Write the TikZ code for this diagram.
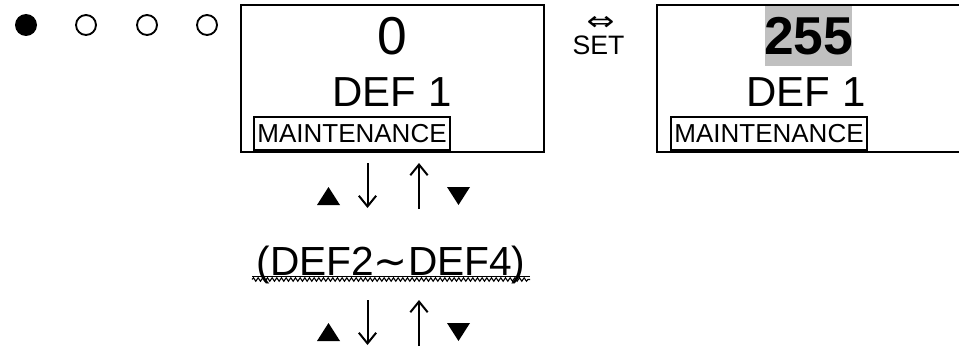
\documentclass[tikz,border=0pt]{standalone}
\usepackage{fontspec}
\usepackage{graphicx}
\setmainfont{Liberation Sans}
\newfontfamily\dvs{DejaVu Sans}
\usetikzlibrary{arrows.meta,decorations.pathmorphing}
\definecolor{hl}{RGB}{192,192,192}
\begin{document}
\begin{tikzpicture}[x=0.75pt,y=-0.75pt,
  frame/.style={draw,line width=1.5pt,inner sep=0pt,minimum height=110.25pt},
  txt/.style={inner sep=0pt,anchor=base},
  mbox/.style={draw,line width=1.5pt,inner sep=0pt,minimum width=147pt,minimum height=24.75pt,font=\fontsize{19.5}{20}\selectfont},
  bignum/.style={txt,font=\fontsize{40}{41}\selectfont},
  deftxt/.style={txt,font=\fontsize{31.5}{32}\selectfont},
  rangetxt/.style={txt,font=\fontsize{30.5}{31}\selectfont},
  settxt/.style={inner sep=0pt,anchor=south,align=center,font=\fontsize{20}{21}\selectfont},
  dot/.style={circle,fill,inner sep=0pt,minimum size=16.5pt},
  odot/.style={circle,draw,line width=1.4pt,inner sep=0pt,minimum size=15pt},
  arr/.style={line width=1.5pt,-{Straight Barb[length=8pt,width=13pt,line width=1.5pt]}},
]
\useasboundingbox (0,0) rectangle (959,346);

% indicator dots
\node[dot]  (c1) at (26,25) {};
\node[odot] (c2) at (86,25) {};
\node[odot] (c3) at (147,25) {};
\node[odot] (c4) at (207,25) {};

% box 1
\node[frame,minimum width=227.25pt] (box1) at (392.5,78.5) {};
\node[bignum] (v1) at (392.5,55) {0};
\node[deftxt] (d1) at (392,106) {DEF 1};
\node[mbox] (m1) at (352,133.5) {MAINTENANCE};

% set
\node[settxt] (set) at (598.5,55) {\hspace*{3pt}{\dvs\scalebox{1.25}[1]{⇔}}\\[-3pt]SET};

% box 2
\node[frame,minimum width=230.25pt] (box2) at (810.5,78.5) {};
\node[fill=hl,inner sep=0pt,minimum width=65.25pt,minimum height=45pt] (hl2) at (808.5,36) {};
\node[bignum,font=\bfseries\fontsize{40}{41}\selectfont] (v2) at (808.5,55) {255};
\node[deftxt] (d2) at (806,106) {DEF 1};
\node[mbox] (m2) at (769,133.5) {MAINTENANCE};

% row 1 arrows
\fill (317,205) -- (340,205) -- (328.5,187) -- cycle;
\fill (447,187) -- (470,187) -- (458.5,205) -- cycle;
\coordinate (a1s) at (367.5,163);
\coordinate (a1e) at (367.5,208);
\coordinate (b1s) at (419,209);
\coordinate (b1e) at (419,163);
\draw[arr] (a1s) -- (a1e);
\draw[arr] (b1s) -- (b1e);

% range text
\node[rangetxt] (rng) at (391,275) {(DEF2{\dvs ∼}DEF4)};
\coordinate (ul1) at (252,276.5);
\coordinate (ul2) at (530,276.5);
\draw[line width=0.7pt] (ul1) -- (ul2);
\coordinate (wv1) at (252,279.5);
\coordinate (wv2) at (530,279.5);
\draw[line width=0.8pt,decorate,decoration={snake,amplitude=1.3pt,segment length=3.5pt}] (wv1) -- (wv2);

% row 2 arrows
\fill (317,341) -- (340,341) -- (328.5,323) -- cycle;
\fill (447,323) -- (470,323) -- (458.5,341) -- cycle;
\coordinate (a2s) at (367.5,300);
\coordinate (a2e) at (367.5,345);
\coordinate (b2s) at (419,346);
\coordinate (b2e) at (419,300);
\draw[arr] (a2s) -- (a2e);
\draw[arr] (b2s) -- (b2e);
\end{tikzpicture}
\end{document}
